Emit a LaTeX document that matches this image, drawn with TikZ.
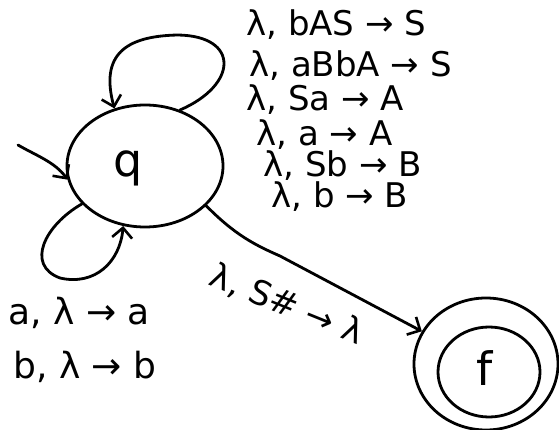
\documentclass[tikz,border=0pt]{standalone}
\usepackage{fontspec}
\setmainfont{DejaVu Sans}
\usetikzlibrary{arrows.meta,shapes.geometric}
\begin{document}
\begin{tikzpicture}[x=1pt,y=-1pt, line width=2.8pt, line cap=round, line join=round,
  tip/.style={-{Straight Barb[length=10pt,width=20pt,line width=2.6pt]}},
  state/.style={draw, ellipse, inner sep=0pt},
  statetext/.style={font=\fontsize{46}{50}\selectfont, inner sep=0pt},
  lbl/.style={font=\fontsize{34}{36}\selectfont, inner sep=0pt, anchor=west},
  lblb/.style={font=\fontsize{36}{38}\selectfont, inner sep=0pt, anchor=west}]
\useasboundingbox (0,0) rectangle (559,430);
% states
\node[state, minimum width=156pt, minimum height=122pt] (q) at (145,166) {};
\node[statetext] (qt) at (128,168) {q};
\node[state, minimum width=144pt, minimum height=132pt] (f) at (486,364) {};
\node[state, minimum width=102pt, minimum height=90pt] (fin) at (489,372) {};
\node[statetext] (ft) at (485,368) {f};
% start arrow
\coordinate (s0) at (18,145);
\draw[tip] (s0) .. controls (35,155) and (55,162) .. (q.190);
% top self loop
\draw[tip] (q.58) .. controls (238,85) and (240,36) .. (178,35)
  .. controls (125,36) and (100,55) .. (q.118);
% bottom self loop
\draw[tip] (q.211) .. controls (45,225) and (25,265) .. (60,278)
  .. controls (95,286) and (120,262) .. (q.250);
% q -> f
\draw[tip] (q.327) .. controls (235,235) and (255,245) .. (280,256) -- (f.153);
\node[lbl, anchor=center, rotate=-22] (e1) at (287,305) {λ, S\# → λ};
% loop labels
\node[lbl] (l1) at (245,25) {λ, bAS → S};
\node[lbl] (l2) at (248,66) {λ, aBbA → S};
\node[lbl] (l3) at (245,100) {λ, Sa → A};
\node[lbl] (l4) at (255,135) {λ, a → A};
\node[lbl] (l5) at (262,166) {λ, Sb → B};
\node[lbl] (l6) at (270,197) {λ, b → B};
\node[lblb] (b1) at (7,313) {a, λ → a};
\node[lblb] (b2) at (12,367) {b, λ → b};
\end{tikzpicture}
\end{document}
